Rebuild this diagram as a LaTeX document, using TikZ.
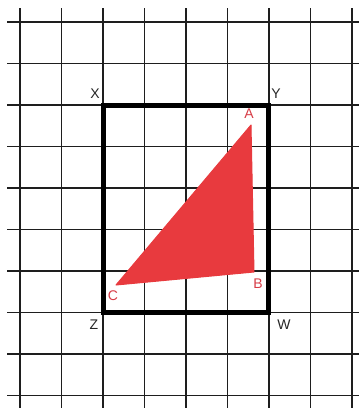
\documentclass[tikz,border=0pt]{standalone}
\usepackage{fontspec}
\setmainfont{Liberation Sans}
\definecolor{tri}{RGB}{232,58,62}
\definecolor{lab}{RGB}{215,60,70}
\definecolor{gridc}{RGB}{30,30,30}
\begin{document}
\begin{tikzpicture}[x=1pt,y=-1pt,
  gridline/.style={draw=gridc,line width=1.4pt},
  frame/.style={draw=black,line width=5pt,line join=miter},
  blk/.style={font=\fontsize{14}{14}\selectfont,text=black!85,inner sep=0pt},
  redlab/.style={font=\fontsize{14}{14}\selectfont,text=lab,inner sep=0pt}]
\useasboundingbox[fill=white] (0,0) rectangle (359,408);
% grid
\foreach \x in {20,61.5,103,144.5,186,227.5,269,310.5,352}
  \draw[gridline] (\x,8) -- (\x,408);
\foreach \y in {22,63.5,105,146.5,188,229.5,271,312.5,354,395.5}
  \draw[gridline] (7,\y) -- (359,\y);
% frame
\coordinate (X) at (103,105);
\coordinate (Y) at (268,105);
\coordinate (W) at (268,312);
\coordinate (Z) at (103,312);
\draw[frame] (X) -- (Y) -- (W) -- (Z) -- cycle;
% triangle
\coordinate (A) at (251,125);
\coordinate (B) at (254,272);
\coordinate (C) at (116,285);
\fill[tri,draw=tri,line width=1pt,line join=round] (A) -- (B) -- (C) -- cycle;
% labels
\node[blk] (lx) at (95,94) {X};
\node[blk] (ly) at (276,94) {Y};
\node[blk] (lz) at (94,325) {Z};
\node[blk] (lw) at (284,325) {W};
\node[redlab] (la) at (249,114) {A};
\node[redlab] (lb) at (258,284) {B};
\node[redlab] (lc) at (113,296) {C};
\end{tikzpicture}
\end{document}
